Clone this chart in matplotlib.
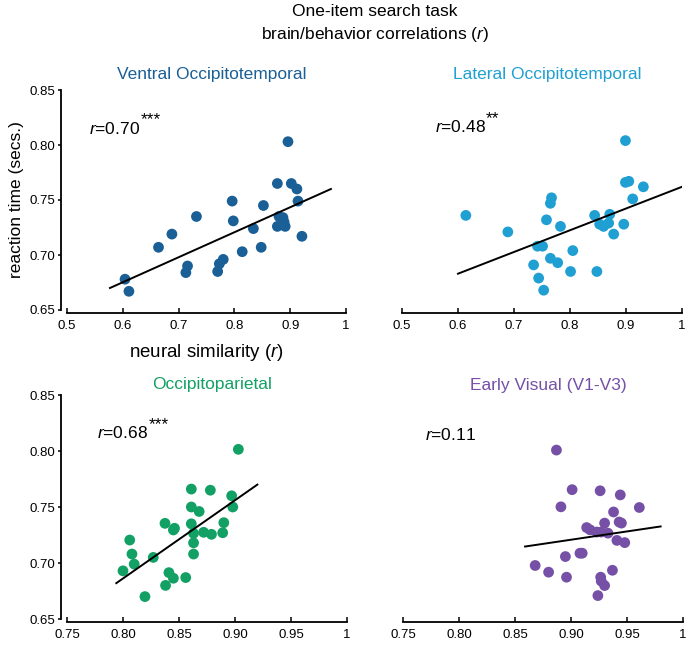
import matplotlib
matplotlib.use("Agg")
import matplotlib.pyplot as plt
import numpy as np

plt.rcParams['font.family'] = ['Liberation Sans', 'DejaVu Sans']
plt.rcParams['mathtext.fontset'] = 'custom'
plt.rcParams['mathtext.rm'] = 'Liberation Sans'
plt.rcParams['mathtext.it'] = 'Liberation Sans:italic'

# ---------------- data ----------------
titles = ["Ventral Occipitotemporal", "Lateral Occipitotemporal",
          "Occipitoparietal", "Early Visual (V1-V3)"]
colors = ["#1a5f96", "#20a0d2", "#12a064", "#7550a6"]
r_values = ["0.70", "0.48", "0.68", "0.11"]
r_stars = ["***", "**", "***", ""]

vot_x = [0.896, 0.877, 0.902, 0.912, 0.914, 0.796, 0.852, 0.732, 0.798,
         0.880, 0.887, 0.889, 0.877, 0.891, 0.834, 0.688, 0.921, 0.664,
         0.848, 0.814, 0.780, 0.773, 0.716, 0.713, 0.770, 0.604, 0.611]
vot_y = [0.803, 0.765, 0.765, 0.760, 0.749, 0.749, 0.745, 0.735, 0.731,
         0.735, 0.734, 0.730, 0.726, 0.726, 0.724, 0.719, 0.717, 0.707,
         0.707, 0.703, 0.696, 0.692, 0.690, 0.684, 0.685, 0.678, 0.667]

lot_x = [0.899, 0.899, 0.905, 0.931, 0.912, 0.767, 0.765, 0.614, 0.844,
         0.871, 0.758, 0.853, 0.860, 0.869, 0.896, 0.783, 0.878, 0.689,
         0.742, 0.751, 0.805, 0.765, 0.778, 0.735, 0.801, 0.848, 0.744, 0.753]
lot_y = [0.804, 0.766, 0.767, 0.762, 0.751, 0.752, 0.747, 0.736, 0.736,
         0.737, 0.732, 0.728, 0.726, 0.729, 0.728, 0.726, 0.719, 0.721,
         0.708, 0.708, 0.704, 0.697, 0.693, 0.691, 0.685, 0.685, 0.679, 0.668]

op_x = [0.903, 0.861, 0.878, 0.897, 0.861, 0.868, 0.898, 0.8375, 0.846,
        0.845, 0.861, 0.890, 0.863, 0.872, 0.879, 0.889, 0.863, 0.863,
        0.806, 0.808, 0.810, 0.827, 0.800, 0.841, 0.845, 0.856, 0.8196, 0.838]
op_y = [0.8015, 0.766, 0.765, 0.760, 0.750, 0.746, 0.750, 0.7354, 0.731,
        0.7295, 0.735, 0.736, 0.7265, 0.7274, 0.7256, 0.727, 0.718, 0.708,
        0.7205, 0.708, 0.699, 0.705, 0.693, 0.6914, 0.6864, 0.687, 0.670, 0.680]

ev_x = [0.887, 0.901, 0.926, 0.944, 0.891, 0.961, 0.938, 0.930, 0.943,
        0.945, 0.914, 0.917, 0.923, 0.927, 0.933, 0.941, 0.948, 0.895,
        0.908, 0.910, 0.868, 0.880, 0.937, 0.896, 0.9265, 0.927, 0.930, 0.924]
ev_y = [0.8015, 0.766, 0.765, 0.7613, 0.7506, 0.750, 0.746, 0.736, 0.737,
        0.736, 0.732, 0.730, 0.728, 0.728, 0.727, 0.7205, 0.7185, 0.706,
        0.709, 0.709, 0.698, 0.692, 0.6937, 0.6875, 0.6875, 0.684, 0.680, 0.671]

# regression lines: (x0, x1), (y0, y1)
fit_x = [(0.577, 0.973), (0.600, 1.000), (0.794, 0.920), (0.859, 0.980)]
fit_y = [(0.670, 0.760), (0.683, 0.762), (0.682, 0.770), (0.715, 0.733)]

xs = [vot_x, lot_x, op_x, ev_x]
ys = [vot_y, lot_y, op_y, ev_y]

top_xticks = [0.5, 0.6, 0.7, 0.8, 0.9, 1.0]
top_xlabels = ["0.5", "0.6", "0.7", "0.8", "0.9", "1"]
bot_xticks = [0.75, 0.80, 0.85, 0.90, 0.95, 1.0]
bot_xlabels = ["0.75", "0.80", "0.85", "0.90", "0.95", "1"]
yticks = [0.65, 0.70, 0.75, 0.80, 0.85]
ylabels = ["0.65", "0.70", "0.75", "0.80", "0.85"]

# ---------------- figure ----------------
W, H = 690, 645
fig = plt.figure(figsize=(W / 100, H / 100), dpi=100)

def px_rect(x0, y_top, x1, y_bot):
    return [x0 / W, 1 - y_bot / H, (x1 - x0) / W, (y_bot - y_top) / H]

rects = [px_rect(67, 90, 346, 310), px_rect(402, 90, 682, 310),
         px_rect(67, 395, 347, 619), px_rect(403, 396, 683, 619)]
r_pos = [(0.079, 0.823), (0.117, 0.83), (0.107, 0.83), (0.078, 0.825)]
title_pads = [8, 8, 4, 4]

for i in range(4):
    ax = fig.add_axes(rects[i])
    ax.scatter(xs[i], ys[i], s=60, color=colors[i], edgecolors='none', zorder=2)
    ax.plot(fit_x[i], fit_y[i], color='black', lw=1.4, zorder=3)
    top = i < 2
    ax.set_xlim(0.5 if top else 0.75, 1.0)
    ax.set_ylim(0.65, 0.85)
    ax.set_xticks(top_xticks if top else bot_xticks)
    ax.set_xticklabels(top_xlabels if top else bot_xlabels)
    ax.spines['top'].set_visible(False)
    ax.spines['right'].set_visible(False)
    ax.spines['bottom'].set_position(('outward', 2.2))
    ax.spines['bottom'].set_linewidth(1.3)
    ax.tick_params(axis='x', direction='in', length=3.5, width=1.1,
                   labelsize=9.5, pad=5)
    if i % 2 == 0:
        ax.set_yticks(yticks)
        ax.set_yticklabels(ylabels)
        ax.spines['left'].set_position(('outward', 4))
        ax.spines['left'].set_linewidth(1.3)
        ax.tick_params(axis='y', direction='out', length=2.5, width=1.1,
                       labelsize=9.5, pad=2)
    else:
        ax.spines['left'].set_visible(False)
        ax.set_yticks([])
    ax.set_title(titles[i], color=colors[i], fontsize=12.5, pad=title_pads[i],
                 x=0.5 + 5 / 280)
    t = ax.text(r_pos[i][0], r_pos[i][1], r"$r$=" + r_values[i],
                transform=ax.transAxes, fontsize=12.5, va='center', ha='left')
    if r_stars[i]:
        ax.annotate(r_stars[i], xy=(1, 1), xycoords=t, xytext=(0.3, 6.0),
                    textcoords='offset points', ha='left', va='top',
                    fontsize=12.5)
    if i == 0:
        ax.set_ylabel("reaction time (secs.)", fontsize=12.5, labelpad=4)
        ax.set_xlabel(r"neural similarity ($r$)", fontsize=13.5, labelpad=7)

fig.text(375 / W, 1 - 12 / H, "One-item search task", ha='center', va='center',
         fontsize=12.5)
fig.text(375 / W, 1 - 34 / H, r"brain/behavior correlations ($r$)", ha='center',
         va='center', fontsize=12.5)

fig.savefig("out.png", dpi=100)
